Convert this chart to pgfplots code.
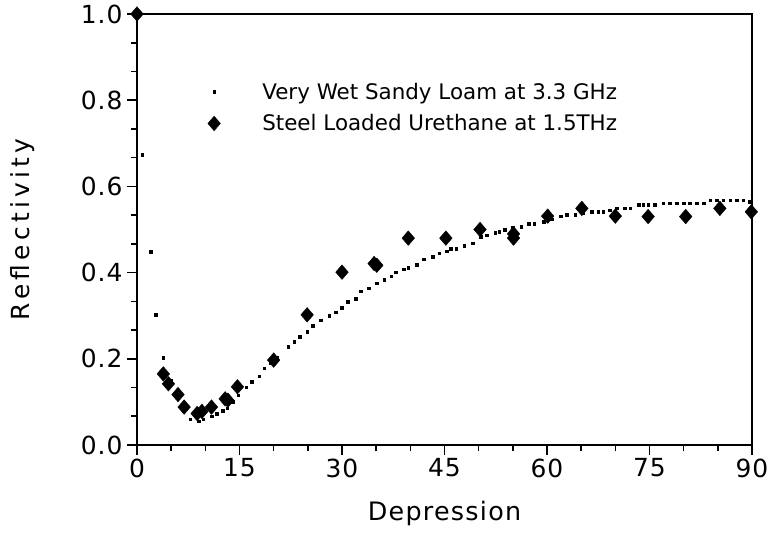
\documentclass[border=0pt]{standalone}
\usepackage{fontspec}
\setmainfont{DejaVu Sans}
\newfontfamily\xlabelfont[LetterSpace=5]{DejaVu Sans}
\newfontfamily\ylabelfont[LetterSpace=17]{DejaVu Sans}
\newfontfamily\tickfont[LetterSpace=4]{DejaVu Sans}
\usepackage{pgfplots}
\pgfplotsset{compat=1.18}
\begin{document}
\begin{tikzpicture}
\useasboundingbox (-137bp,-95bp) rectangle (634bp,445bp);
\begin{axis}[
  scale only axis,
  width=615bp, height=431bp,
  xmin=0, xmax=90, ymin=0, ymax=1,
  xtick={0,15,30,45,60,75,90},
  ytick={0,0.2,0.4,0.6,0.8,1.0},
  minor tick num=2,
  tick pos=left,
  tick align=outside,
  major tick length=10bp,
  minor tick length=6bp,
  every tick/.style={black, line width=1.6bp},
  axis line style={line width=2.2bp},
  /pgf/number format/assume math mode=true,
  yticklabel style={/pgf/number format/fixed, /pgf/number format/precision=1, /pgf/number format/fixed zerofill},
  tick label style={font=\tickfont\fontsize{25}{29}\selectfont},
  xticklabel style={yshift=0bp},
  yticklabel style={xshift=-1bp},
  xlabel={Depression},
  ylabel={Reflectivity},
  xlabel style={font=\xlabelfont\fontsize{25.5}{30}\selectfont, at={(axis description cs:0.5,0)}, anchor=center, yshift=-68bp},
  ylabel style={font=\ylabelfont\fontsize{25}{30}\selectfont, at={(axis description cs:0,0.5)}, anchor=center, yshift=114bp},
  clip=false,
  legend cell align=left,
  legend style={draw=none, fill=none, font=\fontsize{21.5}{25}\selectfont,
    at={(axis description cs:0.11,0.85)}, anchor=north west, row sep=10bp},
  legend image code/.code={\path (-6bp,0bp) (46bp,0bp); \draw[#1] plot coordinates {(0bp,0bp)};},
]
\addplot[only marks, mark=square*, mark size=1.3bp, black] coordinates {
(0.78,0.673) (2.0,0.449) (2.7,0.302) (3.85,0.203) (4.9,0.150) (5.9,0.110) (6.8,0.080)
(7.76,0.060) (9.0,0.055) (9.7,0.060) (10.9,0.067) (11.7,0.073) (12.5,0.080) (13.2,0.085)
(14.0,0.100) (14.8,0.116) (16.0,0.134) (16.8,0.147) (17.9,0.160) (18.6,0.178) (19.5,0.190)
(20.5,0.202) (22.1,0.228) (23.0,0.240) (23.8,0.251) (24.9,0.263) (25.7,0.277) (26.9,0.290)
(28.1,0.300) (29.1,0.308) (30.0,0.319) (30.8,0.333) (32.0,0.339) (32.7,0.357) (33.9,0.364)
(35.1,0.375) (36.2,0.383) (37.2,0.392) (37.9,0.401) (39.0,0.408) (39.7,0.411) (40.9,0.419)
(42.0,0.431) (43.3,0.437) (44.2,0.445) (45.3,0.450) (45.9,0.455) (46.7,0.456) (47.9,0.462)
(49.1,0.468) (50.3,0.483) (51.2,0.487) (52.4,0.493) (53.0,0.495) (53.8,0.500) (55.0,0.504)
(56.2,0.507) (57.3,0.513) (58.1,0.513) (59.5,0.518) (60.7,0.524) (62.0,0.531) (62.9,0.534)
(64.1,0.534) (65.2,0.538) (66.5,0.541) (67.5,0.541) (68.2,0.541) (69.2,0.545) (70.2,0.549)
(71.4,0.549) (72.2,0.549) (73.4,0.557) (74.1,0.557) (74.8,0.557) (75.8,0.557) (77.0,0.561)
(78.0,0.561) (79.0,0.561) (80.0,0.561) (80.9,0.561) (81.9,0.561) (82.9,0.561) (83.9,0.568)
(84.8,0.568) (85.8,0.568) (86.8,0.568) (87.8,0.568) (88.7,0.568) (89.7,0.565)
};
\addlegendentry{Very Wet Sandy Loam at 3.3 GHz}
\addplot[only marks, mark=diamond*, mark size=7.3bp, black, mark options={xscale=1.15}] coordinates {
(0,1.0) (3.85,0.165) (4.6,0.142) (6.0,0.117) (6.9,0.088) (8.8,0.073) (9.5,0.078)
(10.9,0.088) (12.9,0.107) (13.3,0.104) (14.7,0.135) (20.0,0.197) (24.9,0.302) (30.0,0.401)
(34.7,0.421) (35.1,0.417) (39.7,0.480) (45.2,0.480) (50.2,0.500) (55.1,0.490) (55.1,0.480)
(60.1,0.531) (65.1,0.549) (70.0,0.531) (74.8,0.530) (80.3,0.530) (85.3,0.549) (89.9,0.541)
};
\addlegendentry{Steel Loaded Urethane at 1.5THz}
\end{axis}
\end{tikzpicture}
\end{document}
